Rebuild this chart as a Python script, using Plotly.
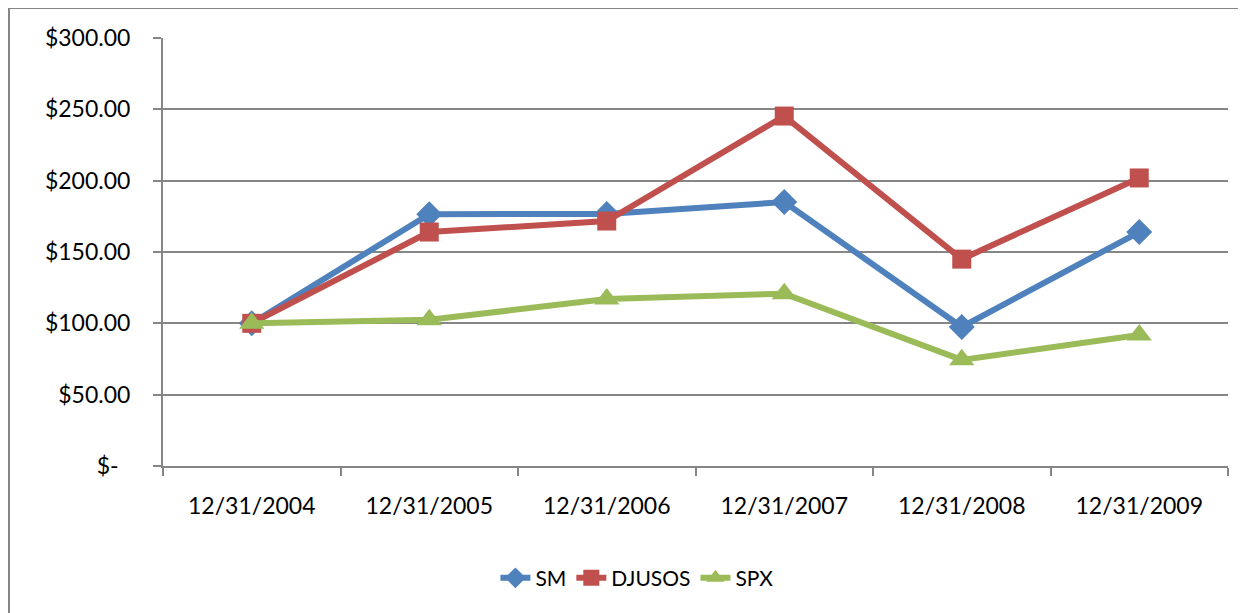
import plotly.graph_objects as go

categories = ["12/31/2004", "12/31/2005", "12/31/2006", "12/31/2007", "12/31/2008", "12/31/2009"]
sm = [100.0, 176.5, 176.7, 185.0, 97.5, 164.0]
djusos = [100.0, 164.0, 171.7, 245.3, 145.0, 201.9]
spx = [100.0, 102.5, 117.0, 120.8, 74.4, 91.8]

tick_vals = [0, 50, 100, 150, 200, 250, 300]
tick_text = ["$-\u00a0\u00a0", "$50.00", "$100.00", "$150.00", "$200.00", "$250.00", "$300.00"]

FONT = "Lato, 'Open Sans', sans-serif"
GRID = "#868686"

fig = go.Figure()
fig.add_trace(go.Scatter(x=categories, y=sm, name="SM", mode="lines+markers",
                         line=dict(color="#4F81BD", width=6),
                         marker=dict(symbol="diamond", size=20, color="#4F81BD")))
fig.add_trace(go.Scatter(x=categories, y=djusos, name="DJUSOS", mode="lines+markers",
                         line=dict(color="#C0504D", width=6),
                         marker=dict(symbol="square", size=19, color="#C0504D")))
fig.add_trace(go.Scatter(x=categories, y=spx, name="SPX", mode="lines+markers",
                         line=dict(color="#9BBB59", width=6),
                         marker=dict(symbol="triangle-up", size=22, color="#9BBB59")))

# page has an 8px body margin: figure origin sits at (8, 8)
fig.update_layout(
    width=1238, height=605,
    margin=dict(l=155, r=18, t=30, b=147, autoexpand=False),
    paper_bgcolor="white", plot_bgcolor="white",
    font=dict(family=FONT, size=23, color="black"),
    showlegend=True,
    legend=dict(orientation="h", x=0.445, xanchor="center", y=-0.262, yanchor="middle",
                font=dict(size=21), bgcolor="rgba(0,0,0,0)"),
    xaxis=dict(type="category", range=[-0.5, 5.5], showgrid=False,
               showline=True, linecolor=GRID, linewidth=2,
               ticks="outside", tickson="boundaries", ticklen=8, tickcolor=GRID, tickwidth=2,
               ticklabelstandoff=18, zeroline=False, fixedrange=True),
    yaxis=dict(range=[0, 300], tickvals=tick_vals, ticktext=tick_text,
               showgrid=True, gridcolor=GRID, gridwidth=2,
               showline=True, linecolor=GRID, linewidth=2,
               ticks="outside", ticklen=8, tickcolor=GRID, tickwidth=2,
               ticklabelstandoff=18, zeroline=False, fixedrange=True),
)

fig.add_shape(type="rect", xref="paper", yref="paper",
              x0=-0.1446, x1=1.05, y0=-0.4, y1=1.0701,
              line=dict(color=GRID, width=2), fillcolor="rgba(0,0,0,0)", layer="below")

fig.write_html("out.html")
